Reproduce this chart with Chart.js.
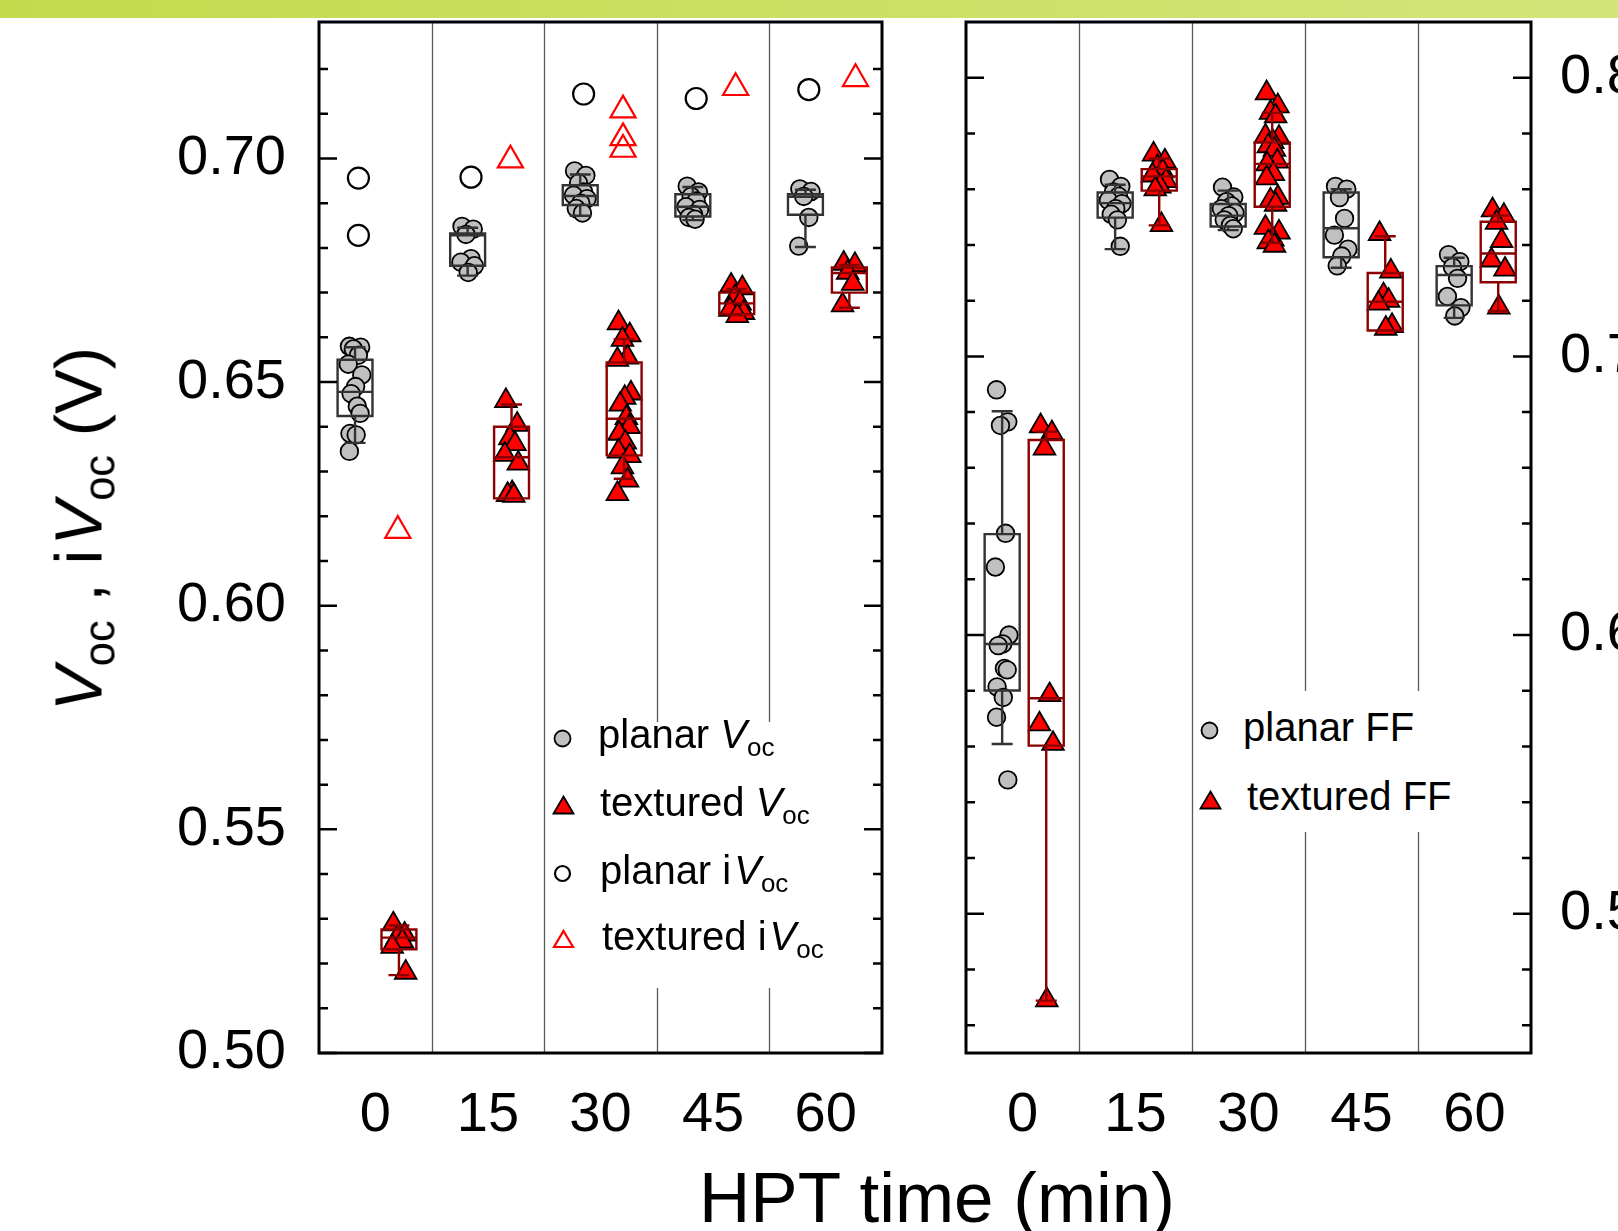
<!DOCTYPE html>
<html>
<head>
<meta charset="utf-8">
<script src="https://cdn.jsdelivr.net/npm/chart.js@4.4.0/dist/chart.umd.min.js"></script>
<style>
  html, body { margin: 0; padding: 0; background: #fff; }
  body { width: 1618px; height: 1231px; position: relative; overflow: hidden;
         font-family: "Liberation Sans", Arial, sans-serif; color: #000; }
  .band { position: absolute; left: 0; top: 0; width: 1618px; height: 18px;
          background: linear-gradient(90deg, #c4da4d, #d3e579); }
  canvas { position: absolute; top: 0; }
  #vocChart { left: 0; width: 920px; height: 1231px; }
  #ffChart { left: 920px; width: 698px; height: 1231px; }
  .legend-box { position: absolute; background: #fff; }
  .txt { position: absolute; white-space: nowrap; line-height: 1; }
  .txt sub { font-size: 0.65em; position: relative; top: 0.3em; vertical-align: baseline; line-height: 0; }
  .lg { font-size: 40px; }
  .mk { position: absolute; overflow: visible; }
  .ytitle { font-size: 67px; left: 78px; top: 529px; transform: translate(-50%, -50%) rotate(-90deg); }
  .xtitle { font-size: 71px; left: 937px; top: 1162px; transform: translateX(-50%); }
</style>
</head>
<body>
<div class="band"></div>
<canvas id="vocChart" width="920" height="1231"></canvas>
<canvas id="ffChart" width="698" height="1231"></canvas>

<!-- legends -->
<div class="legend-box" style="left:549px;top:722px;width:292px;height:266px"></div>
<svg class="mk" style="left:553px;top:729px" width="19" height="19"><circle cx="9.5" cy="9.5" r="8" fill="#c0c0c0" stroke="#000" stroke-width="1.8"/></svg>
<div class="txt lg" style="left:598px;top:714px">planar <i>V</i><sub>oc</sub></div>
<svg class="mk" style="left:552px;top:795px" width="23" height="20"><polygon points="11.5,1.5 21.5,18.5 1.5,18.5" fill="#ff0000" stroke="#000" stroke-width="1.8"/></svg>
<div class="txt lg" style="left:600px;top:782px">textured <i>V</i><sub>oc</sub></div>
<svg class="mk" style="left:552px;top:863px" width="21" height="21"><circle cx="10.5" cy="10.5" r="7.5" fill="none" stroke="#000" stroke-width="2.2"/></svg>
<div class="txt lg" style="left:600px;top:850px">planar i<i style="margin-left:3px">V</i><sub>oc</sub></div>
<svg class="mk" style="left:552px;top:929px" width="23" height="20"><polygon points="11.5,2 21,18 2,18" fill="none" stroke="#ff0000" stroke-width="2.2"/></svg>
<div class="txt lg" style="left:602px;top:916px">textured i<i style="margin-left:3px">V</i><sub>oc</sub></div>

<div class="legend-box" style="left:1197px;top:691px;width:262px;height:141px"></div>
<svg class="mk" style="left:1200px;top:721px" width="19" height="19"><circle cx="9.5" cy="9.5" r="8" fill="#c0c0c0" stroke="#000" stroke-width="1.8"/></svg>
<div class="txt lg" style="left:1243px;top:707px">planar FF</div>
<svg class="mk" style="left:1199px;top:790px" width="23" height="20"><polygon points="11.5,1.5 21.5,18.5 1.5,18.5" fill="#ff0000" stroke="#000" stroke-width="1.8"/></svg>
<div class="txt lg" style="left:1247px;top:776px">textured FF</div>

<div class="txt ytitle"><i>V</i><sub>oc</sub> , i<i style="margin-left:4px">V</i><sub>oc</sub> (V)</div>
<div class="txt xtitle">HPT time (min)</div>

<script>
// HPT time groups and tick marks
const hptLabels = ['0', '15', '30', '45', '60'];
const groupEdges = [0.5, 1.5, 2.5, 3.5];
const vocMajorTicks = [0.50, 0.55, 0.60, 0.65, 0.70];
const vocMinorTicks = [0.51, 0.52, 0.53, 0.54, 0.56, 0.57, 0.58, 0.59, 0.61, 0.62, 0.63, 0.64,
                       0.66, 0.67, 0.68, 0.69, 0.71, 0.72];
const ffMajorTicks = [0.5, 0.6, 0.7, 0.8];
const ffMinorTicks = [0.46, 0.48, 0.52, 0.54, 0.56, 0.58, 0.62, 0.64, 0.66, 0.68,
                      0.72, 0.74, 0.76, 0.78];

// Voc per HPT group (V)
const planarVoc = [
    [0.6580, 0.6578, 0.6574, 0.6560, 0.6540, 0.6516, 0.6490, 0.6474, 0.6446, 0.6430, 0.6385, 0.6382, 0.6345],
    [0.6848, 0.6842, 0.6830, 0.6776, 0.6768, 0.6760, 0.6745],
    [0.6972, 0.6962, 0.6945, 0.6925, 0.6918, 0.6910, 0.6900, 0.6888, 0.6878],
    [0.6938, 0.6925, 0.6915, 0.6905, 0.6892, 0.6886, 0.6875, 0.6868, 0.6864],
    [0.6932, 0.6926, 0.6915, 0.6868, 0.6804]
];
const texturedVoc = [
    [0.5288, 0.5265, 0.5258, 0.5250, 0.5238, 0.5180],
    [0.6458, 0.6405, 0.6375, 0.6362, 0.6338, 0.6318, 0.6252, 0.6248, 0.6246],
    [0.6632, 0.6605, 0.6595, 0.6555, 0.6550, 0.6475, 0.6465, 0.6450, 0.6420, 0.6400, 0.6385,
     0.6365, 0.6345, 0.6335, 0.6310, 0.6280, 0.6250],
    [0.6716, 0.6710, 0.6690, 0.6676, 0.6662, 0.6655, 0.6648],
    [0.6765, 0.6762, 0.6745, 0.6720, 0.6672]
];
const planarIVoc = [[0.6956, 0.6828], [0.6958], [0.7144], [0.7134], [0.7154]];
const texturedIVoc = [[0.6168], [0.6996], [0.7108, 0.7046, 0.7020], [0.7158], [0.7178]];

// box stats: [lower whisker, q1, median, q3, upper whisker]
const planarVocBox = [
    [0.6364, 0.6424, 0.6478, 0.6550, 0.6578],
    [0.6738, 0.6760, 0.6828, 0.6832, 0.6845],
    [0.6872, 0.6896, 0.6916, 0.6940, 0.6964],
    [0.6862, 0.6870, 0.6892, 0.6920, 0.6936],
    [0.6802, 0.6874, 0.6914, 0.6920, 0.6930]
];
const texturedVocBox = [
    [0.5174, 0.5232, 0.5258, 0.5276, 0.5285],
    [0.6240, 0.6240, 0.6332, 0.6400, 0.6450],
    [0.6284, 0.6336, 0.6418, 0.6544, 0.6596],
    [0.6650, 0.6652, 0.6676, 0.6700, 0.6708],
    [0.6666, 0.6700, 0.6744, 0.6756, 0.6762]
];

// FF per HPT group
const planarFF = [
    [0.6880, 0.6765, 0.6752, 0.6365, 0.6244, 0.6000, 0.5968, 0.5962, 0.5880, 0.5875, 0.5814, 0.5776, 0.5705, 0.5480],
    [0.7635, 0.7610, 0.7590, 0.7575, 0.7560, 0.7548, 0.7530, 0.7510, 0.7490, 0.7395],
    [0.7607, 0.7572, 0.7555, 0.7540, 0.7530, 0.7515, 0.7505, 0.7490, 0.7470, 0.7458],
    [0.7610, 0.7600, 0.7570, 0.7495, 0.7435, 0.7385, 0.7360, 0.7325],
    [0.7365, 0.7340, 0.7320, 0.7280, 0.7215, 0.7175, 0.7145]
];
const texturedFF = [
    [0.6750, 0.6725, 0.6670, 0.5785, 0.5680, 0.5610, 0.4690],
    [0.7725, 0.7700, 0.7680, 0.7665, 0.7650, 0.7630, 0.7610, 0.7600, 0.7472],
    [0.7945, 0.7898, 0.7875, 0.7862, 0.7790, 0.7785, 0.7770, 0.7755, 0.7742, 0.7700, 0.7690,
     0.7655, 0.7640, 0.7570, 0.7560, 0.7545, 0.7462, 0.7445, 0.7420, 0.7410, 0.7398],
    [0.7440, 0.7305, 0.7220, 0.7200, 0.7190, 0.7110, 0.7100],
    [0.7525, 0.7505, 0.7480, 0.7415, 0.7345, 0.7312, 0.7176]
];
const planarFFBox = [
    [0.5609, 0.5801, 0.5968, 0.6362, 0.6803],
    [0.7385, 0.7498, 0.7550, 0.7588, 0.7616],
    [0.7453, 0.7466, 0.7505, 0.7547, 0.7595],
    [0.7318, 0.7356, 0.7460, 0.7588, 0.7600],
    [0.7138, 0.7183, 0.7292, 0.7324, 0.7354]
];
const texturedFFBox = [
    [0.4688, 0.5603, 0.5773, 0.6700, 0.6730],
    [0.7470, 0.7595, 0.7646, 0.7672, 0.7710],
    [0.7408, 0.7537, 0.7691, 0.7768, 0.7874],
    [0.7093, 0.7093, 0.7196, 0.7299, 0.7431],
    [0.7163, 0.7266, 0.7369, 0.7483, 0.7505]
];

// layout (x offsets inside a group, in group units)
const PLANAR_X = -0.18;
const TEXTURED_X = 0.21;
const IVOC_PLANAR_X = [-0.15, -0.15, -0.15, -0.15, -0.15];
const IVOC_TEXTURED_X = [0.2, 0.2, 0.2, 0.2, 0.265];
const BOX_HALF = 0.155;
const jitter = [-0.05, 0.05, -0.015, 0.03, -0.06, 0.06, 0.005, -0.035, 0.02, 0.045, -0.045, 0.01];

const FONT = '"Liberation Sans", Arial, sans-serif';
Chart.defaults.font.family = FONT;
Chart.defaults.color = '#000';

function spread(groups, shift) {
    const pts = [];
    groups.forEach((vals, g) => vals.forEach((v, k) => {
        pts.push({ x: g + shift + jitter[k % jitter.length], y: v });
    }));
    return pts;
}

function column(groups, shifts) {
    const pts = [];
    groups.forEach((vals, g) => vals.forEach(v => pts.push({ x: g + shifts[g], y: v })));
    return pts;
}

function drawBoxes(chart, stats, shift, color) {
    const { ctx, scales: { x, y } } = chart;
    ctx.save();
    ctx.strokeStyle = color;
    ctx.lineWidth = 2.4;
    stats.forEach(([lo, q1, med, q3, hi], g) => {
        const c = g + shift;
        const cx = x.getPixelForValue(c);
        const l = x.getPixelForValue(c - BOX_HALF);
        const r = x.getPixelForValue(c + BOX_HALF);
        const capL = x.getPixelForValue(c - BOX_HALF * 0.6);
        const capR = x.getPixelForValue(c + BOX_HALF * 0.6);
        const yq1 = y.getPixelForValue(q1), yq3 = y.getPixelForValue(q3);
        const ylo = y.getPixelForValue(lo), yhi = y.getPixelForValue(hi);
        const ymed = y.getPixelForValue(med);
        ctx.beginPath();
        ctx.rect(l, yq3, r - l, yq1 - yq3);
        ctx.moveTo(l, ymed); ctx.lineTo(r, ymed);
        ctx.moveTo(cx, yq3); ctx.lineTo(cx, yhi);
        ctx.moveTo(capL, yhi); ctx.lineTo(capR, yhi);
        ctx.moveTo(cx, yq1); ctx.lineTo(cx, ylo);
        ctx.moveTo(capL, ylo); ctx.lineTo(capR, ylo);
        ctx.stroke();
    });
    ctx.restore();
}

// separators, box plots, frame and inward ticks
const panelDecor = {
    id: 'panelDecor',
    beforeDatasetsDraw(chart) {
        const { ctx, chartArea: a, scales: { x } } = chart;
        ctx.save();
        ctx.strokeStyle = '#5a5a5a';
        ctx.lineWidth = 1.3;
        ctx.beginPath();
        groupEdges.forEach(v => {
            const px = Math.round(x.getPixelForValue(v)) + 0.5;
            ctx.moveTo(px, a.top);
            ctx.lineTo(px, a.bottom);
        });
        ctx.stroke();
        ctx.restore();
    },
    afterDatasetsDraw(chart, args, opts) {
        opts.boxes.forEach(b => drawBoxes(chart, b.stats, b.shift, b.color));
    },
    afterDraw(chart, args, opts) {
        const { ctx, chartArea: a, scales: { y } } = chart;
        ctx.save();
        ctx.strokeStyle = '#000';
        ctx.lineWidth = 2.5;
        ctx.beginPath();
        const mark = (v, len) => {
            const py = y.getPixelForValue(v);
            ctx.moveTo(a.left, py); ctx.lineTo(a.left + len, py);
            ctx.moveTo(a.right, py); ctx.lineTo(a.right - len, py);
        };
        opts.major.forEach(v => mark(v, 18));
        opts.minor.forEach(v => mark(v, 9));
        ctx.stroke();
        ctx.lineWidth = 3;
        ctx.strokeRect(a.left, a.top, a.right - a.left, a.bottom - a.top);
        ctx.restore();
    }
};

function xScale() {
    return {
        type: 'linear',
        min: -0.5,
        max: 4.5,
        bounds: 'data',
        grid: { display: false, drawTicks: false },
        border: { display: false },
        afterBuildTicks: s => { s.ticks = hptLabels.map((_, i) => ({ value: i })); },
        afterFit: s => { s.height = 178; s.paddingLeft = 0; s.paddingRight = 0; },
        ticks: {
            autoSkip: false,
            maxRotation: 0,
            padding: 29,
            font: { size: 56 },
            color: '#000',
            callback: v => hptLabels[v]
        }
    };
}

function yScale(position, min, max, major, width, pad, digits) {
    return {
        type: 'linear',
        position,
        min,
        max,
        bounds: 'data',
        grid: { display: false, drawTicks: false },
        border: { display: false },
        afterBuildTicks: s => { s.ticks = major.map(v => ({ value: v })); },
        afterFit: s => { s.width = width; s.paddingTop = 0; s.paddingBottom = 0; },
        ticks: {
            autoSkip: false,
            padding: pad,
            font: { size: 56 },
            color: '#000',
            callback: v => v.toFixed(digits)
        }
    };
}

const circleSet = (data) => ({
    data, pointStyle: 'circle', pointRadius: 8.8,
    backgroundColor: '#c0c0c0', borderColor: '#000', borderWidth: 1.8
});
const triangleSet = (data) => ({
    data, pointStyle: 'triangle', pointRadius: 12.5,
    backgroundColor: '#ff0000', borderColor: '#000', borderWidth: 1.8
});

new Chart(document.getElementById('vocChart'), {
    type: 'scatter',
    data: {
        datasets: [
            { label: 'planar iVoc', data: column(planarIVoc, IVOC_PLANAR_X), pointStyle: 'circle',
              pointRadius: 10.5, backgroundColor: 'rgba(0,0,0,0)', borderColor: '#000', borderWidth: 2.2 },
            { label: 'textured iVoc', data: column(texturedIVoc, IVOC_TEXTURED_X), pointStyle: 'triangle',
              pointRadius: 14.5, backgroundColor: 'rgba(0,0,0,0)', borderColor: '#ff0000', borderWidth: 2.2 },
            Object.assign({ label: 'textured Voc' }, triangleSet(spread(texturedVoc, TEXTURED_X))),
            Object.assign({ label: 'planar Voc' }, circleSet(spread(planarVoc, PLANAR_X)))
        ]
    },
    options: {
        responsive: false,
        animation: false,
        events: [],
        layout: { padding: { left: 0, top: 22, right: 38, bottom: 0 } },
        scales: {
            x: xScale(),
            y: yScale('left', 0.50, 0.7305, vocMajorTicks, 319, 33, 2)
        },
        plugins: {
            legend: { display: false },
            tooltip: { enabled: false },
            panelDecor: {
                major: vocMajorTicks,
                minor: vocMinorTicks,
                boxes: [
                    { stats: planarVocBox, shift: PLANAR_X, color: '#333333' },
                    { stats: texturedVocBox, shift: TEXTURED_X, color: '#8b0000' }
                ]
            }
        }
    },
    plugins: [panelDecor]
});

new Chart(document.getElementById('ffChart'), {
    type: 'scatter',
    data: {
        datasets: [
            Object.assign({ label: 'textured FF' }, triangleSet(spread(texturedFF, TEXTURED_X))),
            Object.assign({ label: 'planar FF' }, circleSet(spread(planarFF, PLANAR_X)))
        ]
    },
    options: {
        responsive: false,
        animation: false,
        events: [],
        layout: { padding: { left: 46, top: 22, right: 0, bottom: 0 } },
        scales: {
            x: xScale(),
            y: yScale('right', 0.45, 0.82, ffMajorTicks, 87, 29, 1)
        },
        plugins: {
            legend: { display: false },
            tooltip: { enabled: false },
            panelDecor: {
                major: ffMajorTicks,
                minor: ffMinorTicks,
                boxes: [
                    { stats: planarFFBox, shift: PLANAR_X, color: '#333333' },
                    { stats: texturedFFBox, shift: TEXTURED_X, color: '#8b0000' }
                ]
            }
        }
    },
    plugins: [panelDecor]
});
</script>
</body>
</html>
